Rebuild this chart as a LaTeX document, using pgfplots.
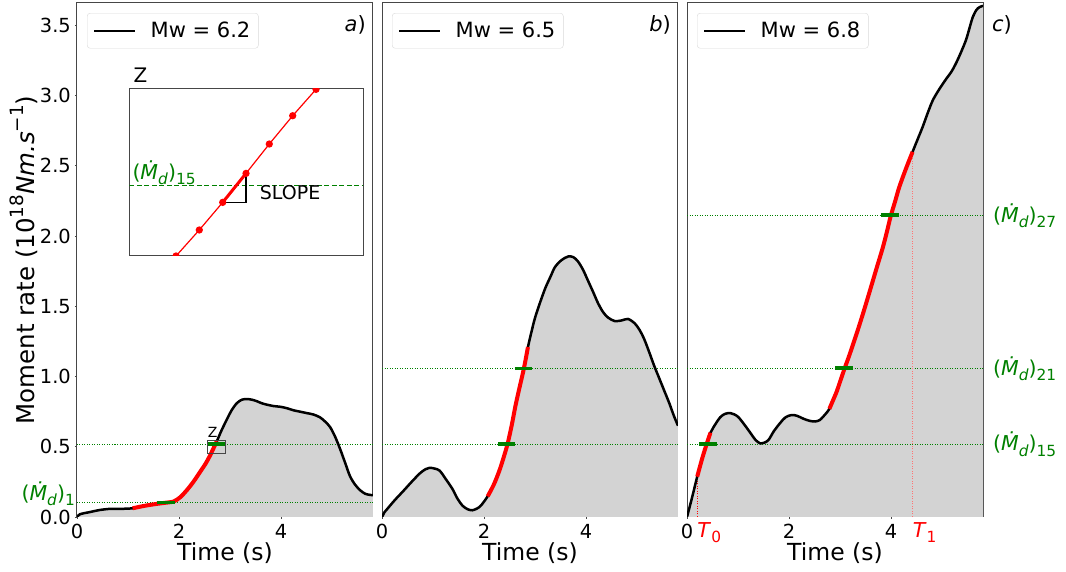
\documentclass[border=0pt]{standalone}
\usepackage{pgfplots}
\pgfplotsset{compat=1.18}
\usepackage{pgfplotstable}
\usepackage{fontspec}
\setmainfont{DejaVu Sans}
\usepackage{graphicx}
\definecolor{mgreen}{RGB}{0,128,0}
\definecolor{lgray}{RGB}{211,211,211}
\definecolor{spine}{RGB}{70,70,70}
\definecolor{mred}{RGB}{255,0,0}
\newcommand{\fs}[1]{\fontsize{#1}{#1}\selectfont}
\newcommand{\sub}[1]{\raisebox{-0.25em}{\scalebox{0.75}{#1}}}
\newcommand{\sups}[1]{\raisebox{0.45em}{\scalebox{0.75}{#1}}}
\newcommand{\Md}[1]{(\textit{\.{M}}\sub{\textit{d}})\sub{#1}}

\pgfplotstableread{
t M
0 0
0.06 0.02
0.25 0.035
0.45 0.05
0.65 0.058
0.85 0.058
1.09 0.062
1.3 0.078
1.5 0.09
1.7 0.100
1.89 0.11
2.02 0.14
2.15 0.19
2.28 0.25
2.41 0.32
2.52 0.38
2.61 0.44
2.74 0.54
2.83 0.615
2.93 0.69
3.03 0.76
3.13 0.81
3.23 0.835
3.33 0.84
3.43 0.835
3.52 0.825
3.62 0.81
3.72 0.80
3.85 0.79
3.98 0.785
4.11 0.775
4.24 0.76
4.37 0.75
4.5 0.74
4.63 0.73
4.76 0.71
4.86 0.68
4.96 0.64
5.06 0.57
5.16 0.48
5.26 0.38
5.35 0.29
5.45 0.23
5.55 0.19
5.65 0.165
5.75 0.157
5.8 0.155
}\dataA

\pgfplotstableread{
t M
0 0
0.05 0.035
0.1 0.056
0.25 0.12
0.42 0.186
0.58 0.25
0.74 0.31
0.85 0.34
0.93 0.35
1.03 0.345
1.13 0.33
1.25 0.27
1.38 0.20
1.48 0.13
1.58 0.08
1.68 0.055
1.77 0.048
1.86 0.06
1.94 0.082
2.07 0.147
2.19 0.23
2.3 0.33
2.38 0.42
2.46 0.52
2.54 0.65
2.62 0.80
2.7 0.93
2.78 1.057
2.86 1.21
2.93 1.32
3.0 1.42
3.1 1.53
3.2 1.63
3.3 1.71
3.39 1.78
3.52 1.83
3.65 1.855
3.75 1.85
3.84 1.82
3.94 1.76
4.04 1.68
4.14 1.60
4.23 1.525
4.33 1.46
4.43 1.42
4.56 1.395
4.7 1.40
4.82 1.41
4.95 1.38
5.05 1.33
5.14 1.265
5.24 1.17
5.33 1.08
5.43 0.99
5.53 0.90
5.63 0.81
5.72 0.72
5.8 0.65
}\dataB

\pgfplotstableread{
t M
0 0
0.1 0.14
0.2 0.287
0.3 0.42
0.39 0.525
0.46 0.60
0.52 0.64
0.65 0.71
0.75 0.735
0.85 0.74
0.93 0.73
1.01 0.71
1.12 0.66
1.24 0.60
1.34 0.55
1.43 0.525
1.52 0.53
1.6 0.55
1.7 0.61
1.82 0.667
1.93 0.71
2.05 0.726
2.16 0.72
2.28 0.70
2.4 0.685
2.51 0.68
2.6 0.69
2.67 0.715
2.73 0.74
2.79 0.77
2.86 0.83
2.93 0.89
3.01 0.975
3.09 1.06
3.17 1.14
3.25 1.225
3.35 1.335
3.45 1.45
3.55 1.57
3.64 1.68
3.73 1.79
3.83 1.91
3.91 2.02
3.99 2.14
4.08 2.25
4.16 2.35
4.29 2.48
4.42 2.60
4.52 2.69
4.62 2.78
4.72 2.88
4.82 2.97
4.95 3.05
5.08 3.12
5.18 3.17
5.27 3.23
5.37 3.31
5.47 3.40
5.55 3.50
5.6 3.56
5.67 3.61
5.73 3.63
5.8 3.64
}\dataC

\pgfplotsset{
  panel/.style={
    scale only axis, width=296pt, height=514pt,
    xmin=0, xmax=5.8, ymin=0, ymax=3.66,
    xtick={0,2,4}, ytick={0,0.5,...,3.5},
    xtick pos=bottom, ytick pos=left,
    tick align=outside, major tick length=2pt,
    tick style={spine, line width=0.8pt},
    axis line style={spine, line width=1pt},
    ticklabel style={font=\fs{19.4}},
    /pgf/number format/assume math mode=true,
    xticklabel style={inner sep=0pt, yshift=-5pt},
    yticklabel style={inner sep=0pt, xshift=-4pt},
    xlabel={Time (s)},
    xlabel style={font=\fs{23.5}, at={(axis description cs:0.5,-0.07)}, anchor=center},
    clip mode=individual,
    legend style={at={(0.0338,0.9805)}, anchor=north west, draw=black!15, rounded corners=3pt,
      fill=white, font=\fs{21}, inner xsep=6pt, inner ysep=7pt, nodes={inner sep=2pt},
      /tikz/every odd column/.append style={column sep=12pt}},
    legend image code/.code={\draw[#1, line width=2.5pt] (0pt,0pt) -- (41pt,0pt);},
  },
  gline/.style={mgreen, line width=0.9pt, dash pattern=on 1pt off 1.5pt, forget plot},
  gseg/.style={mgreen, line width=3.5pt, forget plot},
  curve/.style={black, line width=2.5pt, smooth},
  rseg/.style={mred, line width=4pt, smooth, forget plot},
  gfill/.style={fill=lgray, draw=none, smooth, forget plot},
}

\begin{document}
\begin{tikzpicture}[x=1pt,y=1pt]
\useasboundingbox (0,0) rectangle (1066,572);

% ---------------- panel a
\begin{axis}[panel, at={(77pt,55pt)}, anchor=south west,
  yticklabel={\pgfmathprintnumber[fixed,fixed zerofill,precision=1]{\tick}},
  ylabel={Moment rate (10\sups{18}\textit{Nm.s}\sups{\char"2212 1})},
  ylabel style={font=\fs{24.5}, at={(axis description cs:-0.179,0.5)}, anchor=center}]
\addplot[gfill] table[x=t,y=M]{\dataA} \closedcycle;
\addplot[gline] coordinates {(0,0.102) (5.8,0.102)};
\addplot[gline] coordinates {(0,0.52) (5.8,0.52)};
\addplot[curve] table[x=t,y=M]{\dataA};
\addlegendentry{Mw = 6.2}
\addplot[rseg, restrict x to domain=1.09:2.74] table[x=t,y=M]{\dataA};
\addplot[gseg] coordinates {(1.56,0.102) (1.92,0.102)};
\addplot[gseg] coordinates {(2.57,0.52) (2.90,0.52)};
\addplot[spine, line width=1pt, forget plot] coordinates {(2.563,0.449) (2.916,0.449) (2.916,0.548) (2.563,0.548) (2.563,0.449)};
\node[anchor=base west, font=\fs{14}, inner sep=0pt, yshift=3pt] at (axis cs:2.563,0.548) {Z};
\node[anchor=base east, text=mgreen, font=\fs{20.5}, inner sep=0pt, xshift=-2pt, yshift=2.5pt] at (axis cs:0,0.102) {\Md{1}};
\node[anchor=north east, font=\fs{21}, inner sep=0pt, xshift=-7pt, yshift=-12pt] at (rel axis cs:1,1) {\textit{a})};
\end{axis}

% ---------------- inset
\begin{axis}[at={(129.3pt,316pt)}, anchor=south west, scale only axis, width=234pt, height=167pt,
  xmin=2.60, xmax=2.95, ymin=0.48, ymax=0.575, ticks=none,
  axis line style={spine, line width=1pt}, axis background/.style={fill=white},
  clip marker paths=true, clip mode=individual]
\addplot[mgreen, line width=1.5pt, dash pattern=on 5pt off 2.5pt] coordinates {(2.6,0.52) (2.95,0.52)};
\addplot[black, line width=1.5pt] coordinates {(2.7397,0.5105) (2.7746,0.5105) (2.7746,0.5270)};
\addplot[mred, line width=1.2pt, mark=*, mark size=3pt, mark options={fill=mred, draw=mred, solid}] coordinates {
(2.6350,0.4643) (2.6699,0.4800) (2.7047,0.4948) (2.7397,0.5105) (2.7746,0.5270) (2.8094,0.5437) (2.8444,0.5598) (2.8793,0.5748) (2.9142,0.5906)};
\addplot[mred, line width=3pt] coordinates {(2.7397,0.5105) (2.7746,0.5270)};
\node[anchor=base west, font=\fs{19}, inner sep=0pt] at (axis cs:2.795,0.5124) {SLOPE};
\node[anchor=base west, text=mgreen, font=\fs{20.5}, inner sep=0pt, xshift=3pt, yshift=6pt] at (axis cs:2.6,0.52) {\Md{15}};
\node[anchor=base west, font=\fs{20}, inner sep=0pt, xshift=4pt, yshift=6pt] at (rel axis cs:0,1) {Z};
\end{axis}

% ---------------- panel b
\begin{axis}[panel, at={(382pt,55pt)}, anchor=south west, yticklabels={}, ytick style={draw=none}]
\addplot[gfill] table[x=t,y=M]{\dataB} \closedcycle;
\addplot[gline] coordinates {(0,0.52) (5.8,0.52)};
\addplot[gline] coordinates {(0,1.057) (5.8,1.057)};
\addplot[curve] table[x=t,y=M]{\dataB};
\addlegendentry{Mw = 6.5}
\addplot[rseg, restrict x to domain=2.07:2.86] table[x=t,y=M]{\dataB};
\addplot[gseg] coordinates {(2.27,0.52) (2.60,0.52)};
\addplot[gseg] coordinates {(2.60,1.057) (2.94,1.057)};
\node[anchor=north east, font=\fs{21}, inner sep=0pt, xshift=-7pt, yshift=-12pt] at (rel axis cs:1,1) {\textit{b})};
\end{axis}

% ---------------- panel c
\begin{axis}[panel, at={(687pt,55pt)}, anchor=south west, yticklabels={}, ytick style={draw=none}]
\addplot[gfill] table[x=t,y=M]{\dataC} \closedcycle;
\addplot[gline] coordinates {(0,0.52) (5.8,0.52)};
\addplot[gline] coordinates {(0,1.06) (5.8,1.06)};
\addplot[gline] coordinates {(0,2.15) (5.8,2.15)};
\addplot[mred, line width=1pt, dash pattern=on 1pt off 1.5pt, forget plot] coordinates {(0.2,0) (0.2,0.287)};
\addplot[mred!55, line width=1pt, dash pattern=on 1pt off 1.5pt, forget plot] coordinates {(4.42,0) (4.42,2.6)};
\addplot[curve] table[x=t,y=M]{\dataC};
\addlegendentry{Mw = 6.8}
\addplot[rseg, restrict x to domain=0.2:0.46] table[x=t,y=M]{\dataC};
\addplot[rseg, restrict x to domain=2.79:4.42] table[x=t,y=M]{\dataC};
\addplot[gseg] coordinates {(0.24,0.52) (0.58,0.52)};
\addplot[gseg] coordinates {(2.90,1.06) (3.25,1.06)};
\addplot[gseg] coordinates {(3.81,2.15) (4.15,2.15)};
\node[anchor=north west, text=mred, font=\fs{20.5}, inner sep=0pt, yshift=-5pt] at (axis cs:0.2,0) {\textit{T}\sub{0}};
\node[anchor=north west, text=mred, font=\fs{20.5}, inner sep=0pt, yshift=-5pt] at (axis cs:4.42,0) {\textit{T}\sub{1}};
\node[anchor=base west, text=mgreen, font=\fs{20.5}, inner sep=0pt, xshift=10pt, yshift=-7pt] at (axis cs:5.8,0.52) {\Md{15}};
\node[anchor=base west, text=mgreen, font=\fs{20.5}, inner sep=0pt, xshift=10pt, yshift=-7pt] at (axis cs:5.8,1.06) {\Md{21}};
\node[anchor=base west, text=mgreen, font=\fs{20.5}, inner sep=0pt, xshift=10pt, yshift=-7pt] at (axis cs:5.8,2.15) {\Md{27}};
\node[anchor=north west, font=\fs{21}, inner sep=0pt, xshift=9pt, yshift=-12pt] at (rel axis cs:1,1) {\textit{c})};
\end{axis}
\end{tikzpicture}
\end{document}
